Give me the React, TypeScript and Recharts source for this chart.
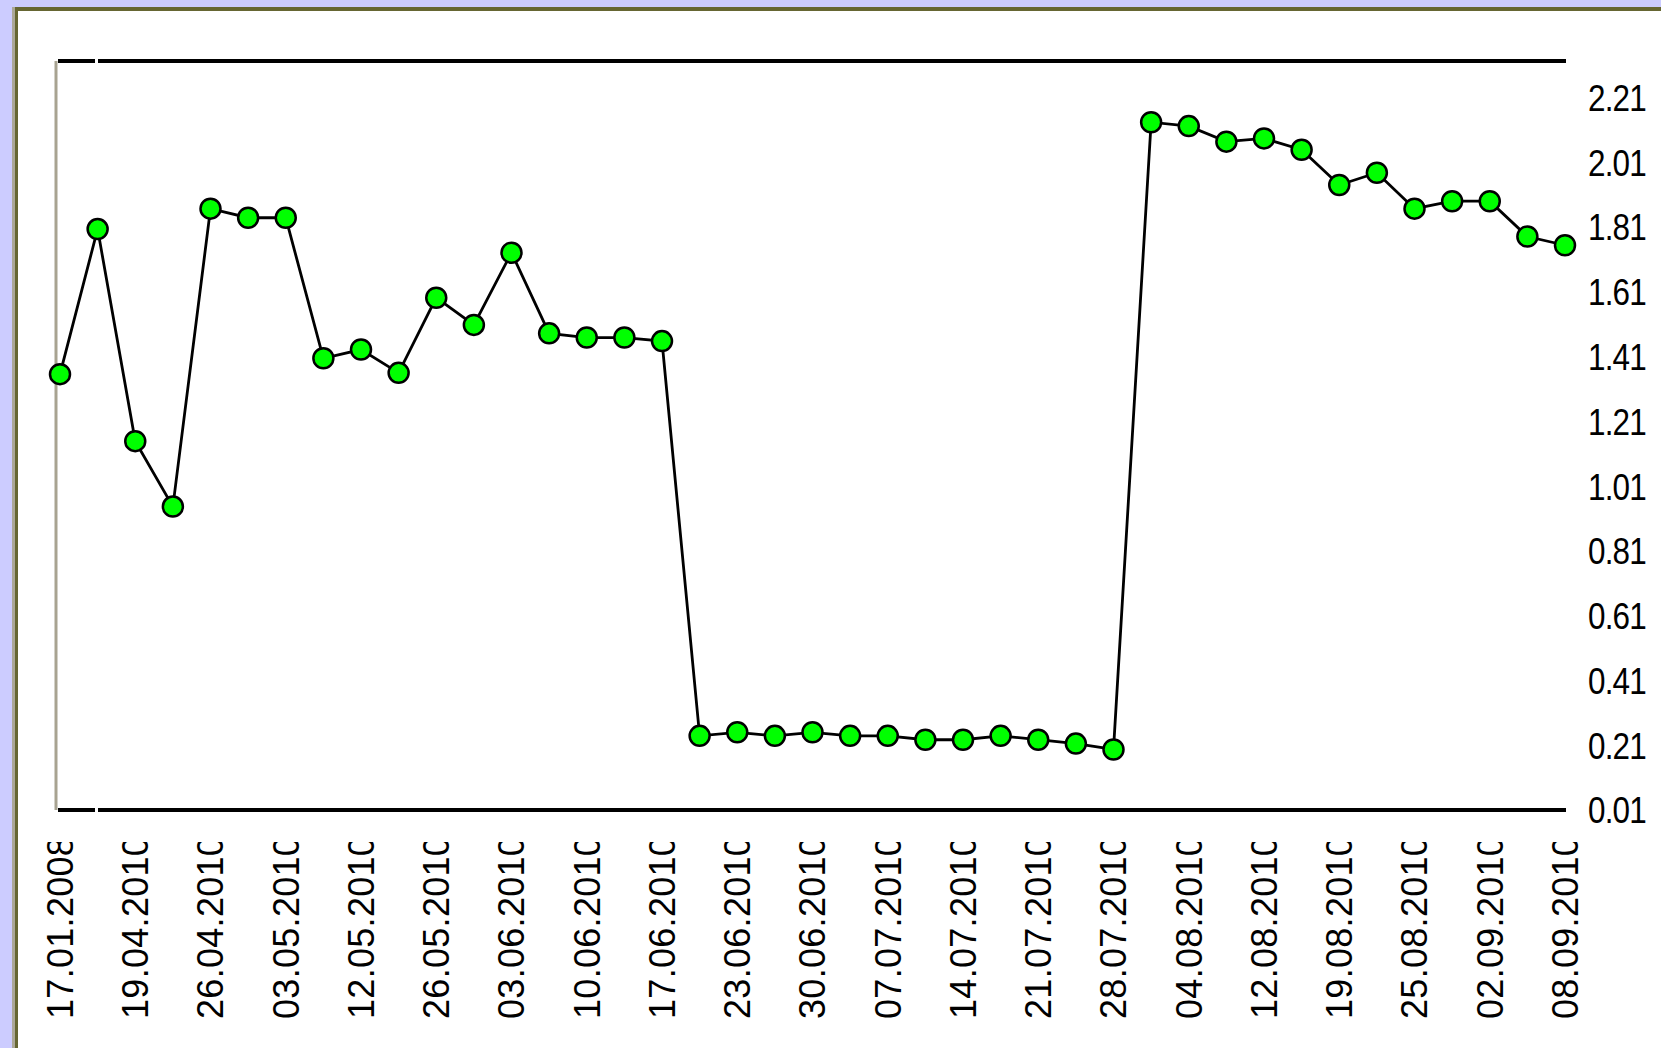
import React from 'react';
import { LineChart, Line, XAxis, YAxis } from 'recharts';

// Tick labels shown under every other point (left to right)
const tickLabels = [
  '17.01.2008', '19.04.2010', '26.04.2010', '03.05.2010', '12.05.2010',
  '26.05.2010', '03.06.2010', '10.06.2010', '17.06.2010', '23.06.2010',
  '30.06.2010', '07.07.2010', '14.07.2010', '21.07.2010', '28.07.2010',
  '04.08.2010', '12.08.2010', '19.08.2010', '25.08.2010', '02.09.2010',
  '08.09.2010',
];

// Series values, one per point (41 points)
const values = [
  1.356, 1.804, 1.149, 0.947, 1.867, 1.839, 1.839, 1.405, 1.432, 1.36, 1.592,
  1.508, 1.731, 1.482, 1.469, 1.469, 1.458,
  0.239, 0.25, 0.239, 0.25, 0.239, 0.239, 0.227, 0.227, 0.239, 0.227, 0.215, 0.197,
  2.134, 2.122, 2.074, 2.084, 2.049, 1.94, 1.978, 1.867, 1.89, 1.89, 1.781, 1.754,
];

const yTicks = [0.01, 0.21, 0.41, 0.61, 0.81, 1.01, 1.21, 1.41, 1.61, 1.81, 2.01, 2.21];
const yMin = 0.01;
const yMax = 2.323;

const data = values.map((v, i) => ({ idx: i, value: v }));
const tickIndices = tickLabels.map((_, i) => i * 2);
const lastIndex = values.length - 1;

const FONT = '"Liberation Sans", Arial, sans-serif';

const XTick = (props: any) => {
  const { x, y, payload, index } = props;
  const label = tickLabels[Math.round(payload.value / 2)] ?? '';
  const id = `xclip-${index}`;
  return (
    <g>
      <defs>
        <clipPath id={id}>
          <rect x={x - 30} y={y + 32} width={60} height={220} />
        </clipPath>
      </defs>
      <g clipPath={`url(#${id})`}>
        <text
          transform={`translate(${x},${y + 209}) rotate(-90)`}
          x={0}
          y={0}
          dy="0.36em"
          textAnchor="start"
          fontSize={36}
          letterSpacing={0.3}
          fontFamily={FONT}
          fill="#000"
        >
          {label}
        </text>
      </g>
    </g>
  );
};

const YTick = (props: any) => {
  const { x, y, payload } = props;
  return (
    <text
      transform={`translate(${x},${y}) scale(0.85,1)`}
      x={0}
      y={0}
      dy="0.36em"
      textAnchor="start"
      fontSize={37}
      letterSpacing={-1}
      fontFamily={FONT}
      fill="#000"
    >
      {Number(payload.value).toFixed(2)}
    </text>
  );
};

export default function App() {
  return (
    <div
      style={{
        position: 'absolute',
        left: 0,
        top: 0,
        width: 1661,
        height: 1048,
        overflow: 'hidden',
        background: '#ccccff',
      }}
    >
      <div style={{ position: 'absolute', left: 12, top: 7, width: 3, bottom: 0, background: '#aca899' }} />
      <div style={{ position: 'absolute', left: 15, top: 7, width: 3, bottom: 0, background: '#666633' }} />
      <div style={{ position: 'absolute', left: 15, top: 7, right: 0, height: 4, background: '#666633' }} />
      <div style={{ position: 'absolute', left: 18, top: 11, right: 0, bottom: 0, background: '#ffffff' }} />
      <div style={{ position: 'absolute', left: 0, top: 0 }}>
        <LineChart
          width={1661}
          height={1048}
          data={data}
          margin={{ top: 60, right: 5, bottom: 38, left: 55 }}
        >
          <XAxis
            dataKey="idx"
            type="number"
            domain={[0, lastIndex]}
            ticks={tickIndices}
            interval={0}
            padding={{ left: 4, right: 1 }}
            height={200}
            tickSize={0}
            tickMargin={0}
            tickLine={false}
            axisLine={{ stroke: '#000', strokeWidth: 4, strokeDasharray: '0 2 37 3 3000' }}
            tick={<XTick />}
          />
          <XAxis
            xAxisId="top"
            dataKey="idx"
            type="number"
            orientation="top"
            domain={[0, lastIndex]}
            padding={{ left: 4, right: 1 }}
            height={1}
            tick={false}
            tickLine={false}
            axisLine={{ stroke: '#000', strokeWidth: 4, strokeDasharray: '0 2 37 3 3000' }}
          />
          <YAxis
            yAxisId="l"
            orientation="left"
            domain={[yMin, yMax]}
            width={1}
            tick={false}
            tickLine={false}
            axisLine={{ stroke: '#a8a391', strokeWidth: 3 }}
          />
          <YAxis
            yAxisId="r"
            orientation="right"
            domain={[yMin, yMax]}
            ticks={yTicks}
            interval={0}
            width={90}
            tickSize={0}
            tickMargin={22}
            tickLine={false}
            axisLine={false}
            tick={<YTick />}
          />
          <Line
            yAxisId="r"
            type="linear"
            dataKey="value"
            stroke="#000"
            strokeWidth={2.8}
            dot={{ r: 10, fill: '#00ff00', stroke: '#000', strokeWidth: 2.5 }}
            activeDot={false}
            isAnimationActive={false}
          />
        </LineChart>
      </div>
    </div>
  );
}
